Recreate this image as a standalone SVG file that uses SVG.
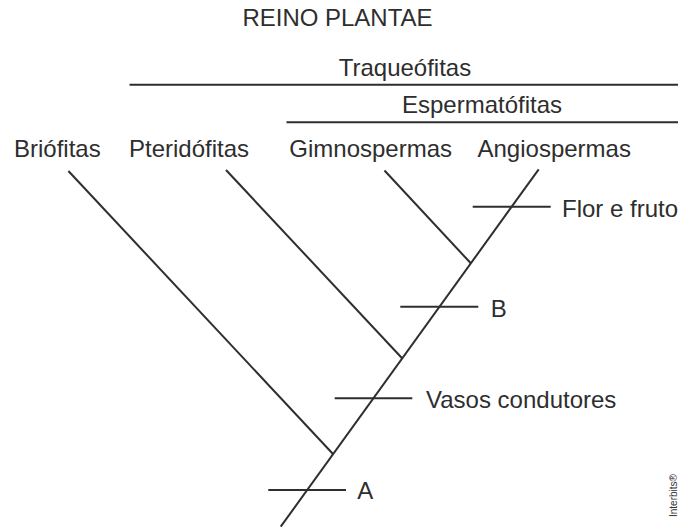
<svg xmlns="http://www.w3.org/2000/svg" width="693" height="529" viewBox="0 0 693 529">
<style>
text{font-family:"Liberation Sans",Arial,sans-serif;fill:#2e2e2e;font-size:24px}
.ln{stroke:#2e2e2e;stroke-width:2;fill:none;stroke-linecap:butt}
.wm{font-size:10px;fill:#333}
</style>
<rect width="693" height="529" fill="#fff"/>
<g id="title"><text x="242.5" y="25.7" textLength="190" lengthAdjust="spacingAndGlyphs">REINO PLANTAE</text></g>
<g id="traqueofitas">
<text x="338.7" y="76">Traqueófitas</text>
<line class="ln" x1="129.5" y1="84.7" x2="678" y2="84.7"/>
</g>
<g id="espermatofitas">
<text x="402" y="113.3">Espermatófitas</text>
<line class="ln" x1="286.5" y1="122.3" x2="678" y2="122.3"/>
</g>
<g id="briofitas"><text x="14" y="156.5">Briófitas</text></g>
<g id="pteridofitas"><text x="129" y="156.5">Pteridófitas</text></g>
<g id="gimnospermas"><text x="289.3" y="156.5">Gimnospermas</text></g>
<g id="angiospermas"><text x="477.5" y="156.5">Angiospermas</text></g>
<g id="connectors">
<line class="ln" x1="538.7" y1="169.3" x2="280.7" y2="526.7"/>
<line class="ln" x1="384.5" y1="170.5" x2="470.8" y2="263.3"/>
<line class="ln" x1="226" y1="170" x2="402.1" y2="358.3"/>
<line class="ln" x1="68.4" y1="171" x2="333" y2="454"/>
</g>
<g id="flor-e-fruto">
<line class="ln" x1="472.7" y1="206.7" x2="550.7" y2="206.7"/>
<text x="562" y="216.7">Flor e fruto</text>
</g>
<g id="B">
<line class="ln" x1="400.3" y1="306.7" x2="478.3" y2="306.7"/>
<text x="490.7" y="316.7">B</text>
</g>
<g id="vasos-condutores">
<line class="ln" x1="334.7" y1="398.3" x2="412.3" y2="398.3"/>
<text x="426" y="407.7">Vasos condutores</text>
</g>
<g id="A">
<line class="ln" x1="268.3" y1="490" x2="346" y2="490"/>
<text x="357.3" y="499.3">A</text>
</g>
<g id="watermark"><text class="wm" transform="translate(677,517) rotate(-90)">Interbits®</text></g>
</svg>
